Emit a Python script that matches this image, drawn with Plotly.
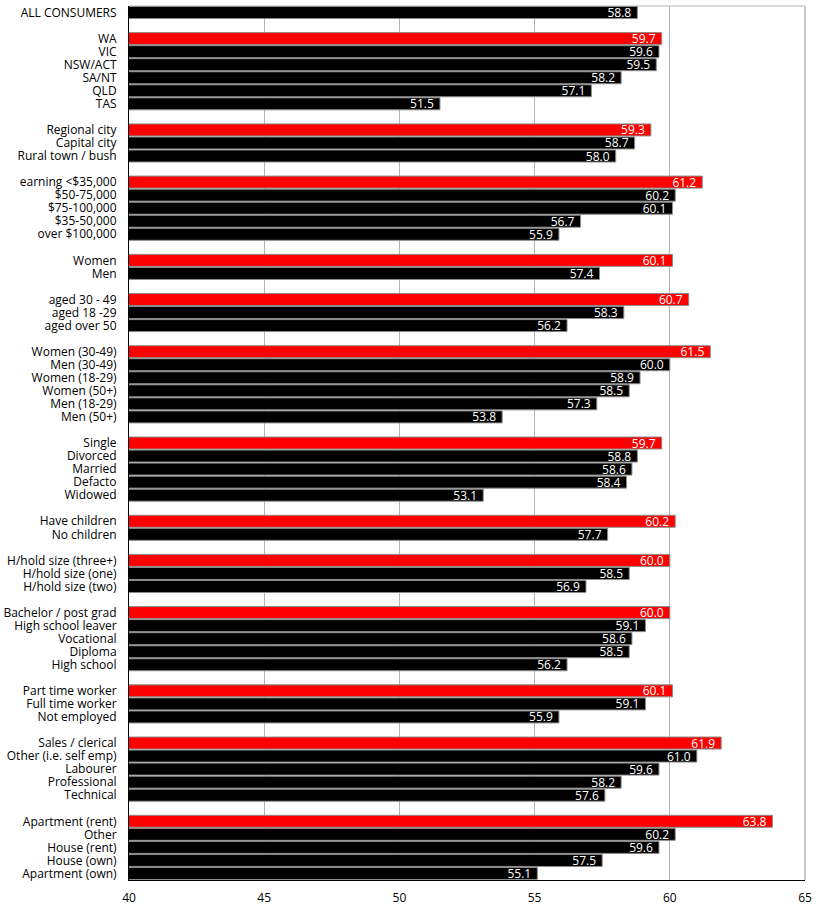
import plotly.graph_objects as go

# Survey index scores by consumer segment
all_labels = ["ALL CONSUMERS"]
all_values = [58.8]

state_labels = ["WA", "VIC", "NSW/ACT", "SA/NT", "QLD", "TAS"]
state_values = [59.7, 59.6, 59.5, 58.2, 57.1, 51.5]

location_labels = ["Regional city", "Capital city", "Rural town / bush"]
location_values = [59.3, 58.7, 58.0]

income_labels = ["earning <$35,000", "$50-75,000", "$75-100,000", "$35-50,000", "over $100,000"]
income_values = [61.2, 60.2, 60.1, 56.7, 55.9]

gender_labels = ["Women", "Men"]
gender_values = [60.1, 57.4]

age_labels = ["aged 30 - 49", "aged 18 -29", "aged over 50"]
age_values = [60.7, 58.3, 56.2]

gender_age_labels = ["Women (30-49)", "Men (30-49)", "Women (18-29)", "Women (50+)", "Men (18-29)", "Men (50+)"]
gender_age_values = [61.5, 60.0, 58.9, 58.5, 57.3, 53.8]

marital_labels = ["Single", "Divorced", "Married", "Defacto", "Widowed"]
marital_values = [59.7, 58.8, 58.6, 58.4, 53.1]

children_labels = ["Have children", "No children"]
children_values = [60.2, 57.7]

household_labels = ["H/hold size (three+)", "H/hold size (one)", "H/hold size (two)"]
household_values = [60.0, 58.5, 56.9]

education_labels = ["Bachelor / post grad", "High school leaver", "Vocational", "Diploma", "High school"]
education_values = [60.0, 59.1, 58.6, 58.5, 56.2]

employment_labels = ["Part time worker", "Full time worker", "Not employed"]
employment_values = [60.1, 59.1, 55.9]

occupation_labels = ["Sales / clerical", "Other (i.e. self emp)", "Labourer", "Professional", "Technical"]
occupation_values = [61.9, 61.0, 59.6, 58.2, 57.6]

housing_labels = ["Apartment (rent)", "Other", "House (rent)", "House (own)", "Apartment (own)"]
housing_values = [63.8, 60.2, 59.6, 57.5, 55.1]

x_ticks = [40, 45, 50, 55, 60, 65]

groups = [
    (all_labels, all_values, False),
    (state_labels, state_values, True),
    (location_labels, location_values, True),
    (income_labels, income_values, True),
    (gender_labels, gender_values, True),
    (age_labels, age_values, True),
    (gender_age_labels, gender_age_values, True),
    (marital_labels, marital_values, True),
    (children_labels, children_values, True),
    (household_labels, household_values, True),
    (education_labels, education_values, True),
    (employment_labels, employment_values, True),
    (occupation_labels, occupation_values, True),
    (housing_labels, housing_values, True),
]

RED = "#ff0000"
BLACK = "#000000"

ys, xs, names, colors = [], [], [], []
slot = 0
for gi, (labels, values, highlight_first) in enumerate(groups):
    if gi > 0:
        slot += 1  # blank row between groups
    for i, (lab, val) in enumerate(zip(labels, values)):
        ys.append(slot)
        xs.append(val)
        names.append(lab)
        colors.append(RED if (highlight_first and i == 0) else BLACK)
        slot += 1
n_slots = slot

FONT = "Open Sans"

fig = go.Figure(
    go.Bar(
        x=xs,
        y=ys,
        base=0,
        orientation="h",
        marker=dict(color=colors, line=dict(color="#8c8c8c", width=1)),
        text=[f"{v:.1f}\u00a0" for v in xs],
        textposition="inside",
        insidetextanchor="end",
        constraintext="none",
        textangle=0,
        textfont=dict(family=FONT, size=12, color="white"),
        cliponaxis=True,
        hoverinfo="skip",
    )
)

fig.update_layout(
    width=824,
    height=906,
    margin=dict(l=129, r=19, t=6, b=26),
    paper_bgcolor="white",
    plot_bgcolor="white",
    bargap=0.08,
    showlegend=False,
    font=dict(family=FONT, size=12, color="black"),
    xaxis=dict(
        range=[40, 65],
        tickvals=x_ticks,
        ticktext=[str(t) for t in x_ticks],
        showgrid=True,
        gridcolor="#b4b4b4",
        gridwidth=1,
        showline=True,
        linecolor="black",
        linewidth=1,
        zeroline=False,
        ticks="outside",
        ticklen=7,
        tickcolor="rgba(0,0,0,0)",
        tickfont=dict(family=FONT, size=12, color="black"),
        automargin=False,
    ),
    yaxis=dict(
        range=[n_slots - 0.5, -0.5],
        tickvals=ys,
        ticktext=names,
        showgrid=False,
        showline=True,
        linecolor="black",
        linewidth=1,
        zeroline=False,
        ticks="outside",
        ticklen=9,
        tickcolor="rgba(0,0,0,0)",
        tickfont=dict(family=FONT, size=12, color="black"),
        automargin=False,
    ),
    shapes=[
        dict(type="line", xref="x domain", yref="y domain", x0=0, x1=1, y0=1, y1=1,
             line=dict(color="#b4b4b4", width=1), layer="below"),
        dict(type="line", xref="x domain", yref="y domain", x0=1, x1=1, y0=0, y1=1,
             line=dict(color="#c8c8c8", width=2), layer="below"),
    ],
)

fig.write_html("out.html")
